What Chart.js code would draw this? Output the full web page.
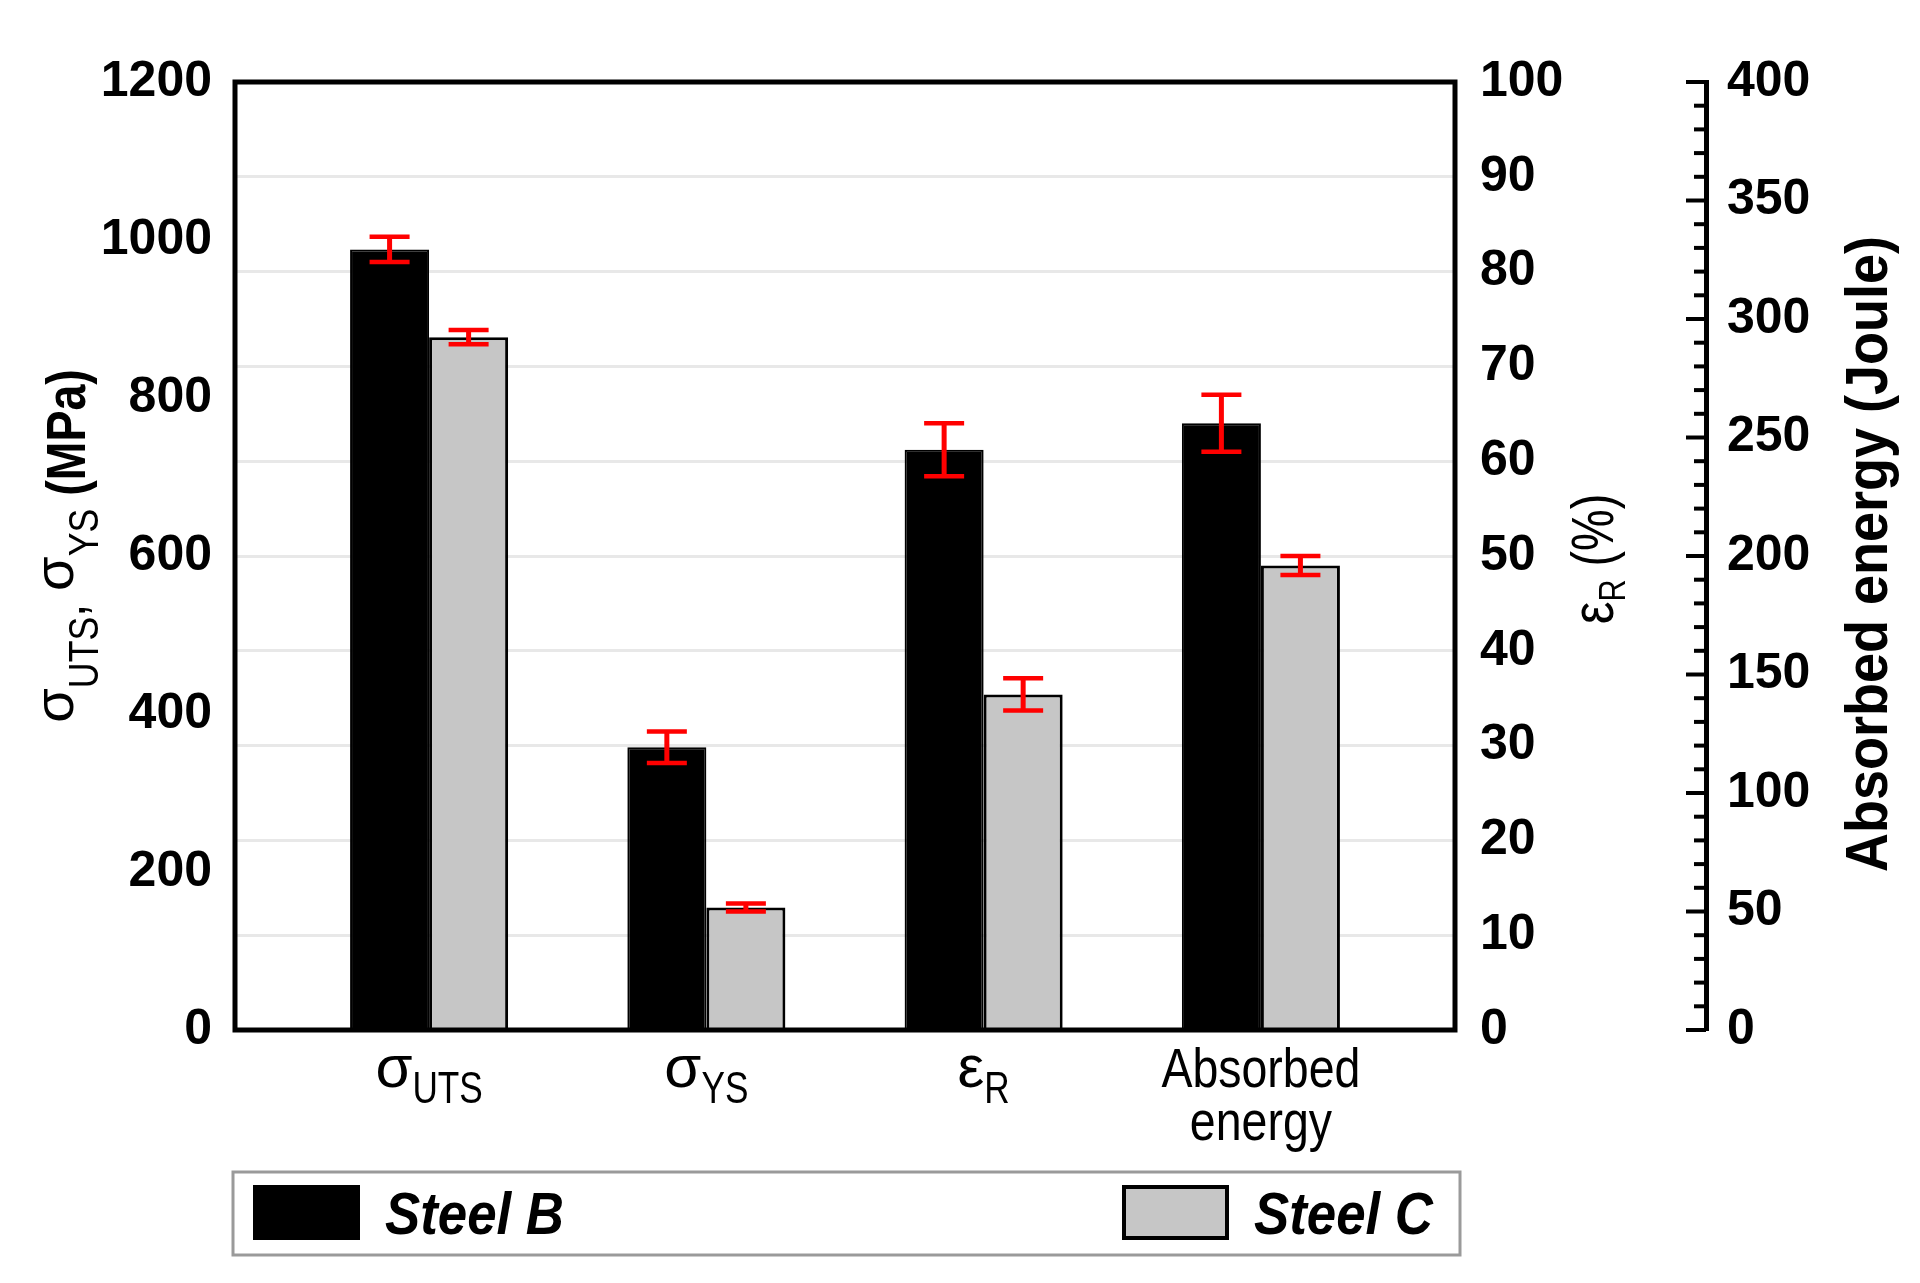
<!DOCTYPE html>
<html>
<head>
<meta charset="utf-8">
<script src="https://cdn.jsdelivr.net/npm/chart.js@4"></script>
<style>
  html, body { margin: 0; padding: 0; background: #fff; }
  canvas { display: block; }
</style>
</head>
<body>
<canvas id="myChart" width="1920" height="1283"></canvas>
<script>
// categories: "_" starts a subscript, "\n" a new line
const categories = ['σ_UTS', 'σ_YS', 'ε_R', 'Absorbed\nenergy'];
// which value axis each category is read on
const categoryAxis = ['y', 'y', 'y1', 'y2'];

const seriesNames = ['Steel B', 'Steel C'];
const steelB = [988, 358, 61.2, 256];
const steelC = [877, 155, 35.4, 196];
const steelBErr = [16, 20, 2.8, 12];
const steelCErr = [9, 5, 1.7, 4];

const stressTicks = [0, 200, 400, 600, 800, 1000, 1200];
const strainTicks = [0, 10, 20, 30, 40, 50, 60, 70, 80, 90, 100];
const energyTicks = [0, 50, 100, 150, 200, 250, 300, 350, 400];

const seriesValues = [steelB, steelC];
const seriesErrors = [steelBErr, steelCErr];
const seriesColors = ['#000000', '#c6c6c6'];

const FONT = '"Liberation Sans", Arial, sans-serif';
Chart.defaults.font.family = FONT;
Chart.defaults.color = '#000';

// draws a row of text pieces (font, vertical shift, horizontal squeeze each)
function drawParts(ctx, parts, x, y, align) {
	let total = 0;
	parts.forEach((p) => {
		ctx.font = p.font;
		p.w = ctx.measureText(p.text).width * (p.sx || 1);
		total += p.w;
	});
	let cx = align === 'center' ? x - total / 2 : x;
	parts.forEach((p) => {
		ctx.save();
		ctx.font = p.font;
		ctx.textAlign = 'left';
		ctx.textBaseline = 'alphabetic';
		ctx.translate(cx, y + (p.dy || 0));
		ctx.scale(p.sx || 1, 1);
		ctx.fillText(p.text, 0, 0);
		ctx.restore();
		cx += p.w;
	});
}

function labelParts(line) {
	const bits = line.split('_');
	const parts = [];
	if (bits.length > 1) {
		parts.push({ text: bits[0], font: '60px ' + FONT, sx: 1 });
		parts.push({ text: bits[1], font: '44px ' + FONT, sx: 0.8, dy: 16 });
	} else {
		parts.push({ text: line, font: '56px ' + FONT, sx: 0.83 });
	}
	return parts;
}

const decorPlugin = {
	id: 'decor',
	afterDatasetsDraw(chart) {
		const ctx = chart.ctx;
		const area = chart.chartArea;

		// plot frame
		ctx.save();
		ctx.strokeStyle = '#000';
		ctx.lineWidth = 5;
		ctx.strokeRect(area.left, area.top, area.right - area.left, area.bottom - area.top);
		ctx.restore();

		// red error bars
		ctx.save();
		ctx.strokeStyle = '#ff0000';
		ctx.lineCap = 'butt';
		chart.data.datasets.forEach((ds, di) => {
			const meta = chart.getDatasetMeta(di);
			const yScale = chart.scales[ds.yAxisID];
			meta.data.forEach((bar, i) => {
				const v = ds.data[i].y;
				if (v === null) return;
				const e = seriesErrors[ds.series][i];
				const top = yScale.getPixelForValue(v + e);
				const bot = yScale.getPixelForValue(v - e);
				ctx.lineWidth = 5;
				ctx.beginPath();
				ctx.moveTo(bar.x, top);
				ctx.lineTo(bar.x, bot);
				ctx.stroke();
				ctx.lineWidth = 4.5;
				ctx.beginPath();
				ctx.moveTo(bar.x - 20, top);
				ctx.lineTo(bar.x + 20, top);
				ctx.moveTo(bar.x - 20, bot);
				ctx.lineTo(bar.x + 20, bot);
				ctx.stroke();
			});
		});
		ctx.restore();
	},
	afterDraw(chart) {
		const ctx = chart.ctx;
		const area = chart.chartArea;
		const xScale = chart.scales.x;
		const eScale = chart.scales.y2;
		ctx.save();
		ctx.fillStyle = '#000';

		// ticks of the energy axis point left of its line
		ctx.strokeStyle = '#000';
		ctx.lineWidth = 4;
		for (let v = 0; v <= 400; v += 10) {
			const y = eScale.getPixelForValue(v);
			const len = v % 50 === 0 ? 20 : 12;
			ctx.beginPath();
			ctx.moveTo(eScale.left, y);
			ctx.lineTo(eScale.left - len, y);
			ctx.stroke();
		}

		// category labels under the plot
		categories.forEach((c, i) => {
			const cx = xScale.getPixelForValue(i);
			c.split('\n').forEach((line, li) => {
				drawParts(ctx, labelParts(line), cx, area.bottom + 57 + li * 53, 'center');
			});
		});

		// left title
		ctx.save();
		ctx.translate(85, (area.top + area.bottom) / 2 - 10);
		ctx.rotate(-Math.PI / 2);
		drawParts(ctx, [
			{ text: 'σ', font: '56px ' + FONT, dy: -12 },
			{ text: 'UTS', font: '42px ' + FONT, sx: 0.85, dy: 13 },
			{ text: ', ', font: '56px ' + FONT, sx: 0.83 },
			{ text: 'σ', font: '56px ' + FONT, dy: -12 },
			{ text: 'YS', font: '42px ' + FONT, sx: 0.85, dy: 13 },
			{ text: ' (MPa)', font: 'bold 56px ' + FONT, sx: 0.83 }
		], 0, 0, 'center');
		ctx.restore();

		// strain title
		ctx.save();
		ctx.translate(1613, (area.top + area.bottom) / 2 + 3);
		ctx.rotate(-Math.PI / 2);
		drawParts(ctx, [
			{ text: 'ε', font: '60px ' + FONT, sx: 0.85 },
			{ text: 'R', font: '36px ' + FONT, sx: 0.85, dy: 12 },
			{ text: ' (%)', font: '60px ' + FONT, sx: 0.78 }
		], 0, 0, 'center');
		ctx.restore();

		// energy title
		ctx.save();
		ctx.translate(1887, (area.top + area.bottom) / 2 - 2);
		ctx.rotate(-Math.PI / 2);
		drawParts(ctx, [
			{ text: 'Absorbed energy (Joule)', font: 'bold 60px ' + FONT, sx: 0.9 }
		], 0, 0, 'center');
		ctx.restore();

		// legend box
		const lg = { left: 233, right: 1460, top: 1172, bottom: 1255 };
		ctx.strokeStyle = '#9a9a9a';
		ctx.lineWidth = 3;
		ctx.strokeRect(lg.left, lg.top, lg.right - lg.left, lg.bottom - lg.top);
		const swatchX = [253, 1122];
		seriesNames.forEach((name, s) => {
			ctx.fillStyle = seriesColors[s];
			ctx.fillRect(swatchX[s], 1185, 107, 55);
			ctx.strokeStyle = '#000';
			ctx.lineWidth = 4;
			ctx.strokeRect(swatchX[s] + 2, 1187, 103, 51);
			ctx.fillStyle = '#000';
			drawParts(ctx, [{ text: name, font: 'italic bold 60px ' + FONT, sx: 0.88 }],
				swatchX[s] + 132, 1234, 'left');
		});
		ctx.restore();
	}
};

// one dataset per steel and value axis; empty categories are skipped
const datasets = [];
seriesNames.forEach((name, s) => {
	['y', 'y1', 'y2'].forEach((axisId) => {
		datasets.push({
			label: name,
			series: s,
			yAxisID: axisId,
			data: categories.map((c, i) => ({ x: i, y: categoryAxis[i] === axisId ? seriesValues[s][i] : null })),
			backgroundColor: seriesColors[s],
			borderColor: '#000',
			borderWidth: s === 0 ? 2 : 3,
			barPercentage: 1,
			categoryPercentage: 0.57,
			skipNull: true
		});
	});
});

const tickFont = { size: 50, weight: 'bold', family: FONT };
const plainLabel = (v) => String(v);

myChart = new Chart(document.getElementById('myChart'), {
	type: 'bar',
	data: { datasets: datasets },
	options: {
		responsive: false,
		animation: false,
		devicePixelRatio: 1,
		layout: { padding: { top: 82, left: 0, right: 0, bottom: 0 } },
		plugins: {
			legend: { display: false },
			tooltip: { enabled: false }
		},
		scales: {
			x: {
				type: 'linear',
				offset: false,
				min: -0.7,
				max: 3.7,
				afterBuildTicks: (s) => { s.ticks = categories.map((c, i) => ({ value: i })); },
				ticks: { display: false },
				grid: { display: false, drawTicks: false, offset: false },
				border: { display: false },
				afterFit: (s) => { s.height = 253; }
			},
			y: {
				position: 'left',
				min: 0,
				max: 1200,
				afterBuildTicks: (s) => { s.ticks = stressTicks.map((v) => ({ value: v })); },
				ticks: { font: tickFont, color: '#000', padding: 23, callback: plainLabel },
				grid: { display: false, drawTicks: false },
				border: { display: false },
				afterFit: (s) => { s.width = 235; }
			},
			y1: {
				position: 'right',
				min: 0,
				max: 100,
				weight: 0,
				afterBuildTicks: (s) => { s.ticks = strainTicks.map((v) => ({ value: v })); },
				ticks: { font: tickFont, color: '#000', padding: 25, callback: plainLabel },
				grid: { color: '#e8e8e8', lineWidth: 3, drawTicks: false },
				border: { display: false },
				afterFit: (s) => { s.width = 251; }
			},
			y2: {
				position: 'right',
				min: 0,
				max: 400,
				weight: 1,
				afterBuildTicks: (s) => { s.ticks = energyTicks.map((v) => ({ value: v })); },
				ticks: { font: tickFont, color: '#000', padding: 21, callback: plainLabel },
				grid: { display: false, drawTicks: false },
				border: { display: true, color: '#000', width: 5 },
				afterFit: (s) => { s.width = 214; }
			}
		}
	},
	plugins: [decorPlugin]
});
</script>
</body>
</html>
